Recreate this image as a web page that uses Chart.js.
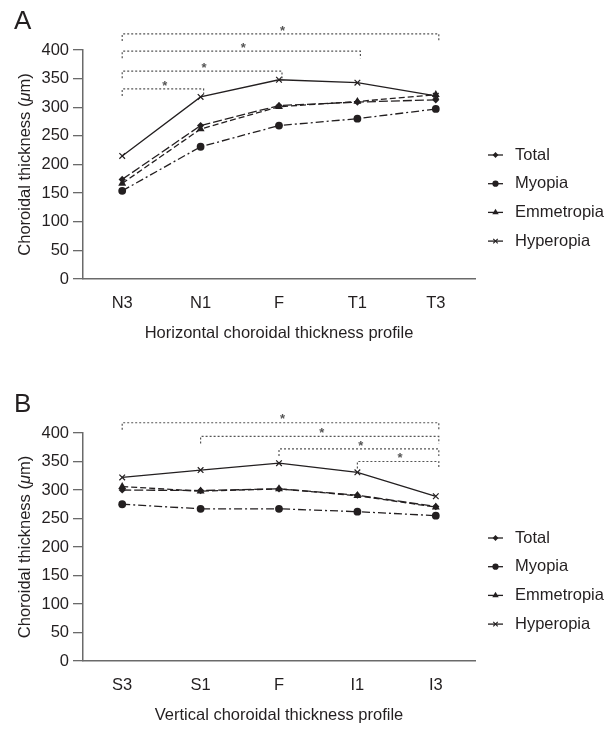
<!DOCTYPE html>
<html>
<head>
<meta charset="utf-8">
<script src="https://cdn.jsdelivr.net/npm/chart.js"></script>
<style>
  body { margin: 0; background: #fff; }
  .panel { position: absolute; left: 0; width: 614px; }
  #wrapA { top: 0; height: 383px; }
  #wrapB { top: 383px; height: 346px; }
</style>
</head>
<body>
<div class="panel" id="wrapA"><canvas id="chartA"></canvas></div>
<div class="panel" id="wrapB"><canvas id="chartB"></canvas></div>
<script>
// series names (same in both panels)
const seriesNames = ["Total", "Myopia", "Emmetropia", "Hyperopia"];

// A: horizontal profile
const horizontalSites = ["N3", "N1", "F", "T1", "T3"];
const totalH = [174, 268, 303, 309, 313];
const myopiaH = [154, 231, 268, 280, 297];
const emmetropiaH = [167, 262, 301, 310, 322];
const hyperopiaH = [215, 318, 348, 343, 320];
// significance brackets: from site, to site, height (um)
const sigH = [
  { from: 0, to: 4, level: 428 },
  { from: 0, to: 3, level: 398 },
  { from: 0, to: 2, level: 363 },
  { from: 0, to: 1, level: 332 },
];

// B: vertical profile
const verticalSites = ["S3", "S1", "F", "I1", "I3"];
const totalV = [300, 299, 302, 291, 271];
const myopiaV = [275, 267, 267, 262, 255];
const emmetropiaV = [306, 298, 302, 290, 270];
const hyperopiaV = [322, 335, 347, 331, 289];
const sigV = [
  { from: 0, to: 4, level: 418 },
  { from: 1, to: 4, level: 394 },
  { from: 2, to: 4, level: 372 },
  { from: 3, to: 4, level: 350 },
];

const yTicks = { min: 0, max: 400, step: 50 };

const INK = "#231f20";
const AXIS = "#6a6a6a";
const FONT = "'Liberation Sans', Arial, Helvetica, sans-serif";

// line / marker look per series
const looks = [
  { dash: [9, 3], point: "rectRot", r: 3.6 },
  { dash: [8, 3, 2, 3], point: "circle", r: 3.9 },
  { dash: [6, 3], point: "triangle", r: 4.6 },
  { dash: [], point: "crossRot", r: 4 },
];

function drawMarker(ctx, style, x, y, r) {
  ctx.save();
  ctx.fillStyle = INK;
  ctx.strokeStyle = INK;
  ctx.lineWidth = 1.1;
  ctx.setLineDash([]);
  ctx.beginPath();
  if (style === "circle") {
    ctx.arc(x, y, r, 0, Math.PI * 2);
    ctx.fill();
  } else if (style === "rectRot") {
    ctx.moveTo(x, y - r); ctx.lineTo(x + r, y); ctx.lineTo(x, y + r); ctx.lineTo(x - r, y);
    ctx.closePath(); ctx.fill();
  } else if (style === "triangle") {
    ctx.moveTo(x, y - r); ctx.lineTo(x + r * 0.87, y + r * 0.5); ctx.lineTo(x - r * 0.87, y + r * 0.5);
    ctx.closePath(); ctx.fill();
  } else {
    const d = r * 0.7;
    ctx.moveTo(x - d, y - d); ctx.lineTo(x + d, y + d);
    ctx.moveTo(x + d, y - d); ctx.lineTo(x - d, y + d);
    ctx.stroke();
  }
  ctx.restore();
}

function makePanel(canvasId, letter, sites, series, sig, xTitle, padBottom) {
  const decor = {
    id: "decor",
    afterDraw(chart) {
      const ctx = chart.ctx;
      const area = chart.chartArea;
      const xs = chart.scales.x;
      const ys = chart.scales.y;
      ctx.save();

      // panel letter
      ctx.fillStyle = INK;
      ctx.font = "26px " + FONT;
      ctx.textAlign = "left";
      ctx.textBaseline = "alphabetic";
      ctx.fillText(letter, 14, 29);

      // y title with italic mu
      const parts = [["Choroidal thickness (", ""], ["\u03bc", "italic "], ["m)", ""]];
      ctx.save();
      ctx.translate(25, (area.top + area.bottom) / 2);
      ctx.rotate(-Math.PI / 2);
      let total = 0;
      parts.forEach(p => { ctx.font = p[1] + "16.5px " + FONT; total += ctx.measureText(p[0]).width; });
      let px = -total / 2;
      ctx.textBaseline = "middle";
      parts.forEach(p => {
        ctx.font = p[1] + "16.5px " + FONT;
        ctx.fillText(p[0], px, 0);
        px += ctx.measureText(p[0]).width;
      });
      ctx.restore();

      // significance brackets
      ctx.strokeStyle = "#555";
      ctx.lineWidth = 1.2;
      ctx.setLineDash([2, 2]);
      sig.forEach(s => {
        const x1 = xs.getPixelForValue(s.from);
        const x2 = xs.getPixelForValue(s.to) + 3;
        const y = ys.getPixelForValue(s.level);
        ctx.beginPath();
        ctx.moveTo(x1, y + 7); ctx.lineTo(x1, y); ctx.lineTo(x2, y); ctx.lineTo(x2, y + 7);
        ctx.stroke();
        ctx.save();
        ctx.setLineDash([]);
        ctx.fillStyle = "#555";
        ctx.font = "bold 13px " + FONT;
        ctx.textAlign = "center";
        ctx.textBaseline = "middle";
        ctx.fillText("*", (x1 + x2) / 2 + 2, y - 3);
        ctx.restore();
      });
      ctx.setLineDash([]);

      // legend
      ctx.font = "16.5px " + FONT;
      ctx.textAlign = "left";
      ctx.textBaseline = "middle";
      chart.data.datasets.forEach((ds, i) => {
        const y = area.top + 105 + i * 28.7;
        ctx.strokeStyle = INK;
        ctx.lineWidth = 1.3;
        ctx.beginPath();
        ctx.moveTo(488, y); ctx.lineTo(503, y);
        ctx.stroke();
        drawMarker(ctx, looks[i].point, 495.5, y, looks[i].r * 0.8);
        ctx.fillStyle = INK;
        ctx.fillText(ds.label, 515, y);
      });
      ctx.restore();
    },
  };

  return new Chart(document.getElementById(canvasId), {
    type: "line",
    data: {
      labels: sites,
      datasets: series.map((vals, i) => ({
        label: seriesNames[i],
        data: vals,
        borderColor: INK,
        backgroundColor: INK,
        borderWidth: 1.3,
        borderDash: looks[i].dash,
        pointStyle: looks[i].point,
        pointRadius: looks[i].r,
        pointBorderWidth: looks[i].point === "crossRot" ? 1.2 : 0,
        pointBorderColor: INK,
        pointBackgroundColor: INK,
        fill: false,
        tension: 0,
      })),
    },
    options: {
      responsive: true,
      maintainAspectRatio: false,
      devicePixelRatio: 1,
      animation: false,
      layout: { padding: { top: 50, left: 0, right: 139, bottom: padBottom } },
      plugins: { legend: { display: false }, tooltip: { enabled: false } },
      scales: {
        x: {
          offset: true,
          grid: { display: true, drawOnChartArea: false, drawTicks: false },
          border: { color: AXIS, width: 1.5 },
          ticks: { color: INK, font: { family: FONT, size: 16.5 }, padding: 15 },
          title: {
            display: true, text: xTitle, color: INK,
            font: { family: FONT, size: 16.5 }, padding: { top: 0, bottom: 0 },
          },
          afterFit: (scale) => { scale.height = 64; },
        },
        y: {
          min: yTicks.min,
          max: yTicks.max,
          grid: { drawOnChartArea: false, drawTicks: true, tickLength: 10, color: AXIS, lineWidth: 1.3 },
          border: { color: AXIS, width: 1.5 },
          ticks: { stepSize: yTicks.step, color: INK, font: { family: FONT, size: 16.5 }, padding: 4 },
          afterFit: (scale) => { scale.width = 83; },
        },
      },
    },
    plugins: [decor],
  });
}

makePanel("chartA", "A", horizontalSites, [totalH, myopiaH, emmetropiaH, hyperopiaH], sigH,
  "Horizontal choroidal thickness profile", 40);
makePanel("chartB", "B", verticalSites, [totalV, myopiaV, emmetropiaV, hyperopiaV], sigV,
  "Vertical choroidal thickness profile", 4);
</script>
</body>
</html>
